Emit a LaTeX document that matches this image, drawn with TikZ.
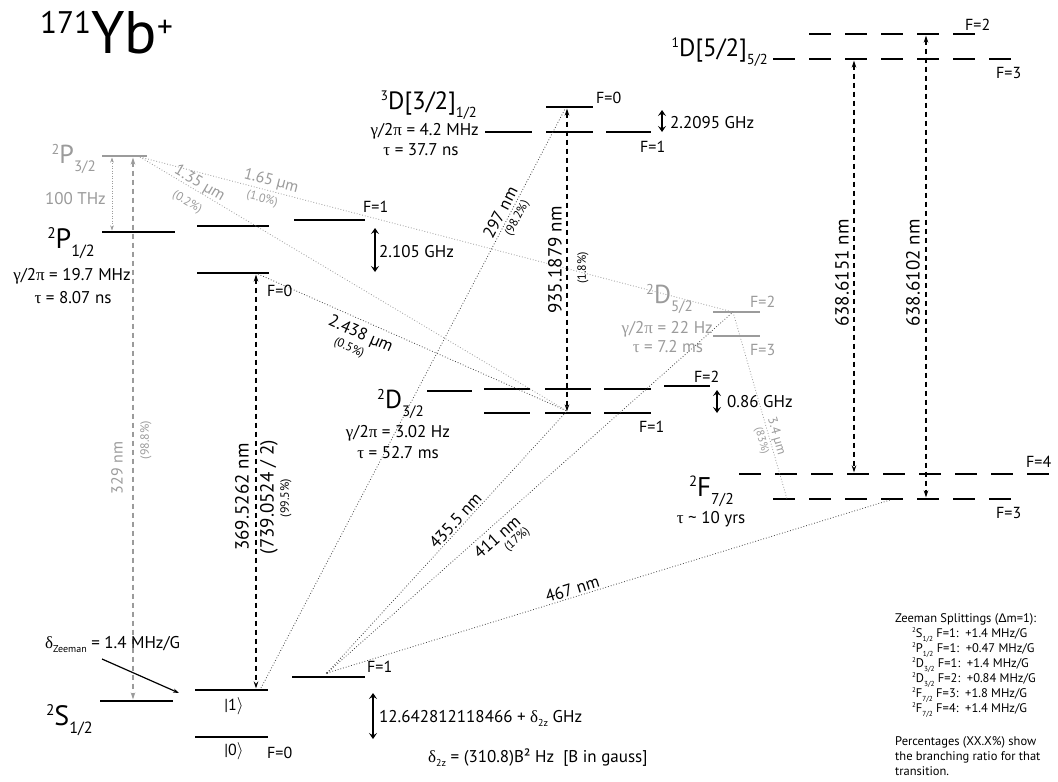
\documentclass[tikz,border=0pt]{standalone}
\usepackage{fontspec}
\setmainfont{PT Sans}
\newfontfamily\gr{Liberation Serif}
\newfontfamily\lsans{Liberation Sans}
\usetikzlibrary{arrows.meta}
\definecolor{lg}{RGB}{155,155,155}
\definecolor{dg}{RGB}{70,70,70}
\newcommand\fs[1]{\fontsize{#1}{#1}\selectfont}
\newcommand\lv[3]{\raisebox{0.34em}{\scalebox{0.55}{#1}}#2\raisebox{-0.32em}{\scalebox{0.58}{#3}}}
\newcommand\gam{{\gr γ}/2{\gr π}}
\begin{document}
\begin{tikzpicture}[x=1pt,y=-1pt,
  lvl/.style={line width=2.8pt},
  glvl/.style={line width=2pt,draw=lg},
  dlvl/.style={line width=2.8pt,dash pattern=on 22pt off 14pt},
  tr/.style={line width=1.2pt,dash pattern=on 5.5pt off 3.5pt,{Stealth[length=7pt,width=4.5pt]}-{Stealth[length=7pt,width=4.5pt]}},
  gtr/.style={tr,color=lg},
  gdt/.style={line width=1pt,color=lg,dash pattern=on 1pt off 1.5pt,{Stealth[length=5pt,width=3.5pt]}-{Stealth[length=5pt,width=3.5pt]}},
  dec/.style={line width=0.8pt,draw=dg,dash pattern=on 0.8pt off 2pt},
  gdec/.style={line width=0.8pt,draw=lg,dash pattern=on 0.8pt off 2pt},
  hf/.style={line width=2.2pt,{Stealth[length=6pt,width=8pt,inset=2.5pt]}-{Stealth[length=6pt,width=8pt,inset=2.5pt]}},
  tx/.style={inner sep=0pt,font=\fs{17}},
  fl/.style={inner sep=0pt,font=\fs{16},anchor=base west},
  sm/.style={inner sep=0pt,font=\fs{12}},
  gl/.style={inner sep=0pt,font=\fs{16},color=lg},
  zl/.style={inner sep=0pt,font=\fs{12.5},anchor=base west}]
\useasboundingbox (0,0) rectangle (1058,782);
\fill[white] (0,0) rectangle (1058,782);

% ---------- title
\node[inner sep=0pt,anchor=base west,font=\fs{60}] (title) at (40,53) {\raisebox{0.33em}{\scalebox{0.52}{171}}Yb\raisebox{0.26em}{\scalebox{0.52}{+}}};

% ---------- level coordinates
\coordinate (Sl) at (100,701); \coordinate (Sr) at (173,701);
\coordinate (Q1l) at (195,690); \coordinate (Q1r) at (268,690);
\coordinate (Q0l) at (195,737); \coordinate (Q0r) at (268,737);
\coordinate (SFl) at (292,677); \coordinate (SFr) at (365,677);
\coordinate (Pl) at (102,232); \coordinate (Pr) at (175,232);
\coordinate (P1l) at (197,226); \coordinate (P1r) at (269,226);
\coordinate (P0l) at (197,273); \coordinate (P0r) at (269,273);
\coordinate (PFl) at (294,220); \coordinate (PFr) at (365,220);
\coordinate (P3l) at (102,156); \coordinate (P3r) at (147,156);
\coordinate (Tl) at (485,132); \coordinate (Tr) at (532,132);
\coordinate (T0l) at (546,107); \coordinate (T0r) at (593,107);
\coordinate (T1l) at (546,132); \coordinate (T1r) at (593,132);
\coordinate (TFl) at (606,132); \coordinate (TFr) at (651,132);
\coordinate (Dl) at (427,391); \coordinate (Dr) at (472,391);
\coordinate (Da2l) at (484,389); \coordinate (Da2r) at (530,389);
\coordinate (Da1l) at (484,413); \coordinate (Da1r) at (530,413);
\coordinate (Db2l) at (545,389); \coordinate (Db2r) at (591,389);
\coordinate (Db1l) at (545,413); \coordinate (Db1r) at (591,413);
\coordinate (Dc2l) at (604,389); \coordinate (Dc2r) at (651,389);
\coordinate (Dc1l) at (604,413); \coordinate (Dc1r) at (651,413);
\coordinate (DFl) at (664,386); \coordinate (DFr) at (710,386);
\coordinate (E2l) at (713,312); \coordinate (E2r) at (760,312);
\coordinate (E3l) at (713,336); \coordinate (E3r) at (760,336);
\coordinate (G2l) at (809,34); \coordinate (G2r) at (976,34);
\coordinate (G3l) at (773,59); \coordinate (G3r) at (1012,59);
\coordinate (H4l) at (739,474); \coordinate (H4r) at (1049,474);
\coordinate (H3l) at (773,499); \coordinate (H3r) at (1012,499);

% ---------- levels
\foreach \a/\b in {Sl/Sr,Q1l/Q1r,Q0l/Q0r,SFl/SFr,Pl/Pr,P1l/P1r,P0l/P0r,PFl/PFr,Tl/Tr,T0l/T0r,T1l/T1r,TFl/TFr,Dl/Dr,Da2l/Da2r,Da1l/Da1r,Db2l/Db2r,Db1l/Db1r,Dc2l/Dc2r,Dc1l/Dc1r,DFl/DFr}
  \draw[lvl] (\a) -- (\b);
\foreach \a/\b in {P3l/P3r,E2l/E2r,E3l/E3r}
  \draw[glvl] (\a) -- (\b);
\foreach \a/\b in {G2l/G2r,G3l/G3r,H4l/H4r,H3l/H3r}
  \draw[dlvl] (\a) -- (\b);

% ---------- transition end points
\coordinate (a329t) at (133,157.5); \coordinate (a329b) at (133,699.5);
\coordinate (aTHt) at (112,157.5); \coordinate (aTHb) at (112,230.5);
\coordinate (a369t) at (256,274.5); \coordinate (a369b) at (256,688.5);
\coordinate (a935t) at (567,108.5); \coordinate (a935b) at (567,411.5);
\coordinate (a51t) at (854,60.5); \coordinate (a51b) at (854,472.5);
\coordinate (a02t) at (926,35.5); \coordinate (a02b) at (926,497.5);
\coordinate (hPt) at (375,228); \coordinate (hPb) at (375,272);
\coordinate (hTt) at (662,110); \coordinate (hTb) at (662,132);
\coordinate (hDt) at (717,390); \coordinate (hDb) at (717,413);
\coordinate (hSt) at (373,693); \coordinate (hSb) at (373,739);
\coordinate (zA) at (102,659); \coordinate (zB) at (179,693);

\coordinate (P3pt) at (140,157);
\coordinate (P0pt) at (258,274);
\coordinate (Q1pt) at (261,688);
\coordinate (SFpt) at (327,673);
\coordinate (tipD) at (567,411);
\coordinate (tipT) at (565,109);
\coordinate (D5pt) at (733,312);
\coordinate (F3pt) at (890,500);
\coordinate (F7pt) at (787,499);

% ---------- decay lines
\draw[gdec] (P3pt) -- (tipD);
\draw[gdec] (P3pt) -- (D5pt);
\draw[dec] (P0pt) -- (tipD);
\draw[dec] (Q1pt) -- (tipT);
\draw[dec] (SFpt) -- (tipD);
\draw[dec] (SFpt) -- (D5pt);
\draw[dec] (SFpt) -- (F3pt);
\draw[gdec] (D5pt) -- (F7pt);
\fill[dg] (SFpt) circle (1.2);

% ---------- transitions
\draw[gtr] (a329t) -- (a329b);
\draw[gdt] (aTHt) -- (aTHb);
\draw[tr] (a369t) -- (a369b);
\draw[tr] (a935t) -- (a935b);
\draw[tr] (a51t) -- (a51b);
\draw[tr] (a02t) -- (a02b);
\draw[hf] (hPt) -- (hPb);
\draw[hf] (hTt) -- (hTb);
\draw[hf] (hDt) -- (hDb);
\draw[hf] (hSt) -- (hSb);
\draw[line width=1.2pt,-{Stealth[length=6pt,width=4pt]}] (zA) -- (zB);

% ---------- labels on decay lines
\path (P3pt) -- (tipD) node[gl,sloped,above=0pt,pos=0.13] (l135) {1.35 µm}
                       node[sm,lg,sloped,below=9pt,pos=0.128] (l02) {(0.2\%)};
\path (P3pt) -- (D5pt) node[gl,sloped,above=2pt,pos=0.217] (l165) {1.65 µm}
                       node[sm,lg,sloped,below=4pt,pos=0.21] (l10) {(1.0\%)};
\path (P0pt) -- (tipD) node[tx,sloped,below=6pt,pos=0.35] (l2438) {2.438 µm}
                       node[sm,sloped,below=25pt,pos=0.335] (l05) {(0.5\%)};
\path (Q1pt) -- (tipT) node[tx,sloped,above=3pt,pos=0.814] (l297) {297 nm}
                       node[sm,sloped,below=3pt,pos=0.818] (l982) {(98.2\%)};
\path (SFpt) -- (tipD) node[tx,sloped,above=2pt,pos=0.56] (l435) {435.5 nm};
\path (SFpt) -- (D5pt) node[tx,sloped,below=5pt,pos=0.40] (l411) {411 nm}
                       node[sm,sloped,below=21pt,pos=0.425] (l17) {(17\%)};
\path (SFpt) -- (F3pt) node[tx,sloped,above=2pt,pos=0.44] (l467) {467 nm};
\path (D5pt) -- (F7pt) node[gl,font=\fs{13},sloped,above=1pt,pos=0.675] (l34) {3.4 µm}
                       node[sm,lg,font=\fs{11},sloped,below=3pt,pos=0.676] (l83) {(83\%)};

% ---------- vertical transition labels
\node[tx,font=\fs{19},rotate=90] (l369) at (242,497) {369.5262 nm};
\node[tx,font=\fs{19},rotate=90] (l739) at (269,497) {(739.0524 / 2)};
\node[sm,rotate=90] (l995) at (286,498) {(99.5\%)};
\node[tx,font=\fs{16},color=lg,rotate=90] (l329) at (117,468) {329 nm};
\node[sm,color=lg,rotate=90] (l988) at (146,440) {(98.8\%)};
\node[tx,font=\fs{19},rotate=90] (l935) at (555,260) {935.1879 nm};
\node[sm,rotate=90] (l18) at (583,268) {(1.8\%)};
\node[tx,font=\fs{19},rotate=90] (l6151) at (842,273) {638.6151 nm};
\node[tx,font=\fs{19},rotate=90] (l6102) at (913,273) {638.6102 nm};

% ---------- level labels
\node[tx,font=\fs{26},color=lg,anchor=base east] (lP32) at (96,163) {\lv{2}{P}{3/2}};
\node[tx,font=\fs{17},color=lg,anchor=base east] (lTHz) at (106,204) {100 THz};
\node[tx,font=\fs{28},anchor=base east] (lP12) at (95,248) {\lv{2}{P}{1/2}};
\node[tx,anchor=base] (lgP) at (72,280) {\gam\ = 19.7 MHz};
\node[tx,anchor=base] (ltP) at (73,303) {{\gr τ} = 8.07 ns};
\node[tx,font=\fs{28},anchor=base east] (lS) at (93,725) {\lv{2}{S}{1/2}};
\node[tx,anchor=base west] (lZ) at (45,648) {{\gr δ}\raisebox{-4pt}{\fs{10}Zeeman} = 1.4 MHz/G};
\node[tx,font=\fs{16},anchor=base] (lk1) at (234,710) {|1$\rangle$};
\node[tx,font=\fs{16},anchor=base] (lk0) at (234,755) {|0$\rangle$};
\node[fl] (lSF0) at (267,758) {F=0};
\node[fl] (lSF1) at (367,672) {F=1};
\node[tx,anchor=base west] (lhfS) at (379,722) {12.642812118466 + {\gr δ}\raisebox{-4pt}{\fs{10}2z} GHz};
\node[tx,anchor=base west] (ld2z) at (428,762) {{\gr δ}\raisebox{-4pt}{\fs{10}2z} = (310.8)B² Hz\ \ [B in gauss]};
\node[fl] (lPF1) at (363,212) {F=1};
\node[fl] (lPF0) at (267,296) {F=0};
\node[tx,anchor=base west] (lhfP) at (379,257) {2.105 GHz};
\node[tx,font=\fs{25},anchor=base east] (lT) at (477,109) {\lv{3}{D[3/2]}{1/2}};
\node[tx,anchor=base east] (lgT) at (479,135) {\gam\ = 4.2 MHz};
\node[tx,anchor=base] (ltT) at (421,155) {{\gr τ} = 37.7 ns};
\node[fl] (lTF0) at (596,103) {F=0};
\node[fl] (lTF1) at (640,152) {F=1};
\node[tx,anchor=base west] (lhfT) at (670,128) {2.2095 GHz};
\node[tx,font=\fs{25},anchor=base east] (l1D) at (768,56) {\lv{1}{D[5/2]}{5/2}};
\node[fl] (l1DF2) at (965,30) {F=2};
\node[fl] (l1DF3) at (996,78) {F=3};
\node[tx,font=\fs{26},color=lg,anchor=base east] (lD5) at (693,303) {\lv{2}{D}{5/2}};
\node[tx,color=lg,anchor=base east] (lgD5) at (713,333) {\gam\ = 22 Hz};
\node[tx,color=lg,anchor=base] (ltD5) at (668,352) {{\gr τ} = 7.2 ms};
\node[fl,color=lg] (lD5F2) at (750,307) {F=2};
\node[fl,color=lg] (lD5F3) at (750,355) {F=3};
\node[tx,font=\fs{26},anchor=base east] (lD3) at (424,408) {\lv{2}{D}{3/2}};
\node[tx,anchor=base] (lgD3) at (398,437) {\gam\ = 3.02 Hz};
\node[tx,anchor=base] (ltD3) at (398,458) {{\gr τ} = 52.7 ms};
\node[fl] (lD3F2) at (694,382) {F=2};
\node[fl] (lD3F1) at (639,432) {F=1};
\node[tx,anchor=base west] (lhfD) at (727,407) {0.86 GHz};
\node[tx,font=\fs{27},anchor=base east] (lF7) at (734,496) {\lv{2}{F}{7/2}};
\node[tx,anchor=base] (ltF7) at (711,523) {{\gr τ} \textasciitilde\ 10 yrs};
\node[fl] (lF4) at (1026,467) {F=4};
\node[fl] (lF3) at (996,518) {F=3};

% ---------- Zeeman block
\node[zl] (z0) at (895,622) {Zeeman Splittings ({\lsans Δ}m=1):};
\node[zl] (z1) at (912,637) {\lv{2}{S}{1/2} F=1:\ \ +1.4 MHz/G};
\node[zl] (z2) at (912,652) {\lv{2}{P}{1/2} F=1:\ \ +0.47 MHz/G};
\node[zl] (z3) at (912,667) {\lv{2}{D}{3/2} F=1:\ \ +1.4 MHz/G};
\node[zl] (z4) at (912,682) {\lv{2}{D}{3/2} F=2:\ \ +0.84 MHz/G};
\node[zl] (z5) at (912,697) {\lv{2}{F}{7/2} F=3:\ \ +1.8 MHz/G};
\node[zl] (z6) at (912,712) {\lv{2}{F}{7/2} F=4:\ \ +1.4 MHz/G};
\node[zl] (p1) at (895,745) {Percentages (XX.X\%) show};
\node[zl] (p2) at (895,760) {the branching ratio for that};
\node[zl] (p3) at (895,775) {transition.};
\end{tikzpicture}
\end{document}
